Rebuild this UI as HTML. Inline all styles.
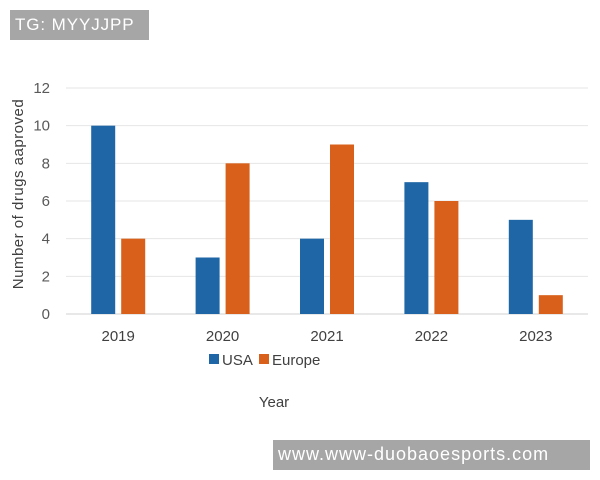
<!DOCTYPE html>
<html><head><meta charset="utf-8">
<style>
body{margin:0;background:#fff;}
#wrap{position:relative;width:600px;height:480px;overflow:hidden;background:#fff;font-family:"Liberation Sans",sans-serif;}
.wm{position:absolute;background:#a6a6a6;color:#fff;font-family:"Liberation Sans",sans-serif;white-space:nowrap;}
</style></head>
<body>
<div id="wrap">
<svg id="chart" width="600" height="480"></svg>
<div class="wm" style="left:10px;top:10px;width:139px;height:30px;font-size:17px;line-height:30px;padding-left:5px;box-sizing:border-box;letter-spacing:0.9px;">TG: MYYJJPP</div>
<div class="wm" style="left:273px;top:440px;width:317px;height:30px;font-size:18px;line-height:28px;padding-left:5px;box-sizing:border-box;letter-spacing:1px;">www.www-duobaoesports.com</div>
</div>
<script>
const categories=["2019","2020","2021","2022","2023"];
const usaValues=[10,3,4,7,5];
const europeValues=[4,8,9,6,1];
const yTicks=[0,2,4,6,8,10,12];
const svg=document.getElementById('chart');
const NS="http://www.w3.org/2000/svg";
const x0=66,x1=588,yBase=314,yTop=88,yMax=12;
const yScale=v=>yBase-(v/yMax)*(yBase-yTop);
const band=(x1-x0)/categories.length;
const xCenter=i=>x0+band*(i+0.5);
const FF='Liberation Sans, sans-serif';
function mk(tag,attrs,text){const e=document.createElementNS(NS,tag);for(const k in attrs)e.setAttribute(k,attrs[k]);if(text!=null)e.textContent=text;svg.appendChild(e);return e;}
yTicks.forEach(t=>{
  const g=mk('line',{x1:x0,x2:x1,y1:yScale(t),y2:yScale(t),stroke:t===0?'#d0d0d0':'#e6e6e6','stroke-width':1});
  
  
  const l=mk('text',{x:50,y:yScale(t)+5,'text-anchor':'end','font-size':15,fill:'#595959','font-family':FF},t);
  
  
});
const bw=24;
categories.forEach((c,i)=>{
  const cx=xCenter(i);
  const b1=mk('rect',{x:cx-bw-3,y:yScale(usaValues[i]),width:bw,height:yBase-yScale(usaValues[i]),fill:'#1f66a6'});
  
  
  const b2=mk('rect',{x:cx+3,y:yScale(europeValues[i]),width:bw,height:yBase-yScale(europeValues[i]),fill:'#d9601a'});
  
  
  const t=mk('text',{x:cx,y:341,'text-anchor':'middle','font-size':15,fill:'#404040','font-family':FF},c);
  
  
});
const yt=mk('text',{x:0,y:0,transform:'translate(23,194) rotate(-90)','text-anchor':'middle','font-size':15,fill:'#404040','font-family':FF,'letter-spacing':'0.5'},'Number of drugs aaproved');


const xt=mk('text',{x:274,y:407,'text-anchor':'middle','font-size':15,fill:'#404040','font-family':FF},'Year');


const l1=mk('rect',{x:209,y:354,width:10,height:10,fill:'#1f66a6'});


const lt1=mk('text',{x:222,y:365,'font-size':15,fill:'#404040','font-family':FF},'USA');


const l2=mk('rect',{x:259,y:354,width:10,height:10,fill:'#d9601a'});


const lt2=mk('text',{x:272,y:365,'font-size':15,fill:'#404040','font-family':FF},'Europe');


</script>
</body></html>
